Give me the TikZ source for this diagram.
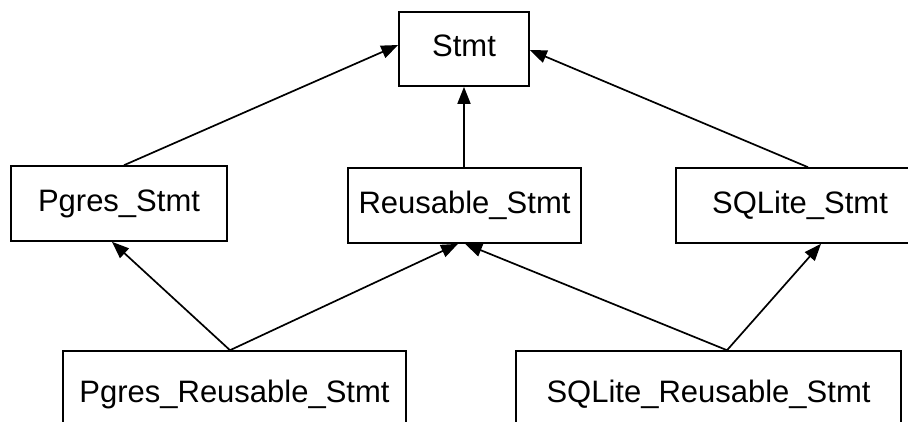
\documentclass[tikz,border=0pt]{standalone}
\usepackage{fontspec}
\setmainfont{Liberation Sans}
\usetikzlibrary{arrows.meta}
\tikzset{
  cls/.style={draw=black, line width=1.6pt, fill=white, rectangle, inner sep=0pt,
    font=\fontsize{31}{36}\selectfont, text height=22pt, text depth=6.5pt},
  inh/.style={line width=1.7pt, -{Triangle[length=17pt,width=13pt]}}
}
\begin{document}
\begin{tikzpicture}[x=1pt,y=-1pt]
\useasboundingbox (0,0) rectangle (908,421);
\clip (0,0) rectangle (908,421);
\fill[white] (0,0) rectangle (908,421);
\node[cls, minimum width=130pt, minimum height=74pt] (stmt) at (464,49) {Stmt};
\node[cls, minimum width=216pt, minimum height=75pt] (pg) at (119,203.5) {Pgres\_Stmt};
\node[cls, minimum width=233pt, minimum height=75pt] (re) at (464.5,205.5) {Reusable\_Stmt};
\node[cls, minimum width=248pt, minimum height=75pt] (sq) at (800,205.5) {SQLite\_Stmt};
\node[cls, minimum width=343pt, minimum height=88pt] (pr) at (234.5,395) {Pgres\_Reusable\_Stmt};
\node[cls, minimum width=385pt, minimum height=88pt] (sr) at (708.5,395) {SQLite\_Reusable\_Stmt};
\draw[inh] ([xshift=5pt]pg.north) -- ([yshift=4pt]stmt.west);
\draw[inh] ([xshift=-0.5pt]re.north) -- (stmt.south);
\draw[inh] ([xshift=8pt]sq.north) -- ([yshift=-1pt]stmt.east);
\draw[inh] ([xshift=-4.5pt]pr.north) -- ([xshift=-7pt]pg.south);
\draw[inh] ([xshift=-4.5pt]pr.north) -- ([xshift=-6.5pt]re.south);
\draw[inh] ([xshift=18.5pt]sr.north) -- ([xshift=0.5pt]re.south);
\draw[inh] ([xshift=18.5pt]sr.north) -- ([xshift=21pt]sq.south);
\end{tikzpicture}
\end{document}
